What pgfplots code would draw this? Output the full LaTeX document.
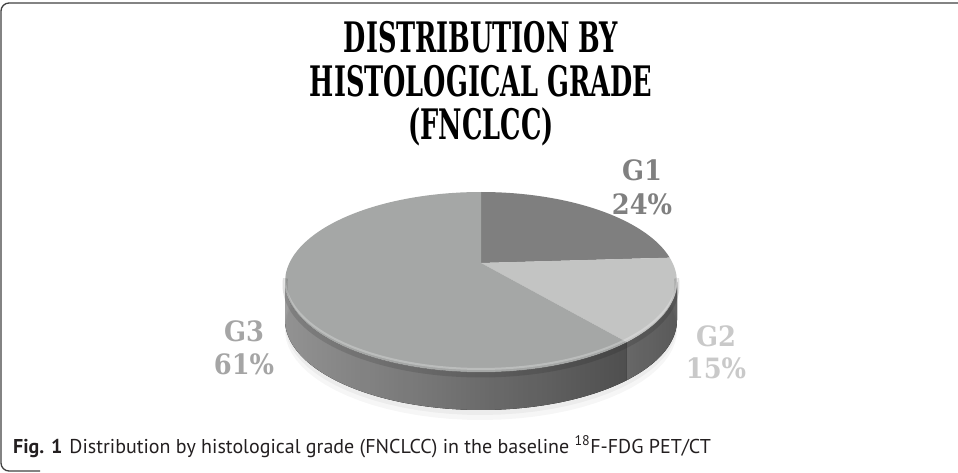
\documentclass[border=0pt]{standalone}
\usepackage{fontspec}
\usepackage{pgfplots}
\usepackage{pgfplotstable}
\pgfplotsset{compat=1.18}
\usepgfplotslibrary{fillbetween}
\newfontfamily\titlefont[FakeStretch=0.61]{DejaVu Serif}
\newfontfamily\labfont[FakeStretch=0.92]{DejaVu Serif}
\newfontfamily\capfont[FakeStretch=1.0]{PT Sans}
\definecolor{gonetop}{HTML}{7F7F7F}
\definecolor{gtwotop}{HTML}{C3C4C3}
\definecolor{gthreetop}{HTML}{A5A7A6}
\definecolor{gonelab}{HTML}{808080}
\definecolor{gtwolab}{HTML}{C9C9C9}
\definecolor{gthreelab}{HTML}{A5A5A5}
\definecolor{captxt}{HTML}{231F20}
\pgfplotstableread{
grade pct
G1 24
G2 15
G3 61
}\piedata
\pgfplotstablegetelem{0}{pct}\of\piedata \let\pA\pgfplotsretval
\pgfplotstablegetelem{1}{pct}\of\piedata \let\pB\pgfplotsretval
\pgfplotstablegetelem{2}{pct}\of\piedata \let\pC\pgfplotsretval
\pgfmathsetmacro\aA{90-3.6*\pA}
\pgfmathsetmacro\aB{\aA-3.6*\pB}
\pgfmathsetmacro\aC{\aB-3.6*\pC}
\begin{document}
\begin{tikzpicture}
\begin{axis}[
  scale only axis, width=958pt, height=472pt,
  xmin=0, xmax=958, ymin=0, ymax=472, y dir=reverse,
  hide axis, clip=false,
  declare function={PX(\t)=481+196*cos(\t)*0.9775/(1+0.211*sin(\t));
                    PY(\t)=282-90*(sin(\t)+0.211)/(1+0.211*sin(\t));},
  samples=90,
]
% shadow
\addplot[fill=black, fill opacity=0.035, draw=none, domain=0:360, variable=\t] ({PX(\t)},{PY(\t)+48});
\addplot[fill=black, fill opacity=0.04, draw=none, domain=0:360, variable=\t] ({PX(\t)},{PY(\t)+43});
% side G3
\addplot[draw=none, name path=sthreetop, domain=-167.82:\aB, variable=\t] ({PX(\t)},{PY(\t)});
\addplot[draw=none, name path=sthreebot, domain=-167.82:\aB, variable=\t] ({PX(\t)},{PY(\t)+38});
\addplot[left color=black!38, middle color=black!50, right color=black!66] fill between[of=sthreetop and sthreebot];
% side G2
\addplot[draw=none, name path=stwotop, domain=\aB:-12.18, variable=\t] ({PX(\t)},{PY(\t)});
\addplot[draw=none, name path=stwobot, domain=\aB:-12.18, variable=\t] ({PX(\t)},{PY(\t)+38});
\addplot[left color=black!56, right color=black!62] fill between[of=stwotop and stwobot];
% top faces
\addplot[fill=gonetop, draw=none, domain=\aA:90, variable=\t] ({PX(\t)},{PY(\t)}) -- (axis cs:481,263) -- cycle;
\addplot[fill=gtwotop, draw=none, domain=\aB:\aA, variable=\t] ({PX(\t)},{PY(\t)}) -- (axis cs:481,263) -- cycle;
\addplot[fill=gthreetop, draw=none, domain=\aC:\aB, variable=\t] ({PX(\t)},{PY(\t)}) -- (axis cs:481,263) -- cycle;
% bevel
\addplot[draw=black, draw opacity=0.12, line width=5pt, domain=-172:-8, variable=\t] ({PX(\t)},{PY(\t)+3});
\addplot[draw=white, draw opacity=0.25, line width=2pt, domain=-170:-10, variable=\t] ({PX(\t)},{PY(\t)-3});
% title
\node[font=\titlefont\bfseries\fontsize{42}{42}\selectfont, anchor=base] at (axis cs:481,53) {DISTRIBUTION BY};
\node[font=\titlefont\bfseries\fontsize{42}{42}\selectfont, anchor=base] at (axis cs:481,97) {HISTOLOGICAL GRADE};
\node[font=\titlefont\bfseries\fontsize{42}{42}\selectfont, anchor=base] at (axis cs:481,140) {(FNCLCC)};
% labels
\node[font=\labfont\bfseries\fontsize{28}{28}\selectfont, text=gonelab, anchor=base] at (axis cs:642,181) {G1};
\node[font=\labfont\bfseries\fontsize{28}{28}\selectfont, text=gonelab, anchor=base] at (axis cs:642,214) {\pA\%};
\node[font=\labfont\bfseries\fontsize{28}{28}\selectfont, text=gtwolab, anchor=base] at (axis cs:716,346) {G2};
\node[font=\labfont\bfseries\fontsize{28}{28}\selectfont, text=gtwolab, anchor=base] at (axis cs:716,378) {\pB\%};
\node[font=\labfont\bfseries\fontsize{28}{28}\selectfont, text=gthreelab, anchor=base] at (axis cs:244,341) {G3};
\node[font=\labfont\bfseries\fontsize{28}{28}\selectfont, text=gthreelab, anchor=base] at (axis cs:244,374) {\pC\%};
% caption
\node[font=\capfont\fontsize{20}{20}\selectfont, text=captxt, anchor=base west, inner sep=0pt] at (axis cs:13,453) {\textbf{Fig. 1}\hspace{7pt}Distribution by histological grade (FNCLCC) in the baseline \textsuperscript{18}F-FDG PET/CT};
% frame
\draw[black!75, line width=1.3pt, rounded corners=8pt] (axis cs:960,3) -- (axis cs:1,3) -- (axis cs:1,471) -- (axis cs:40,471);
\end{axis}
\pgfresetboundingbox
\path[use as bounding box] (0,0) rectangle (958pt,472pt);
\end{tikzpicture}
\end{document}
